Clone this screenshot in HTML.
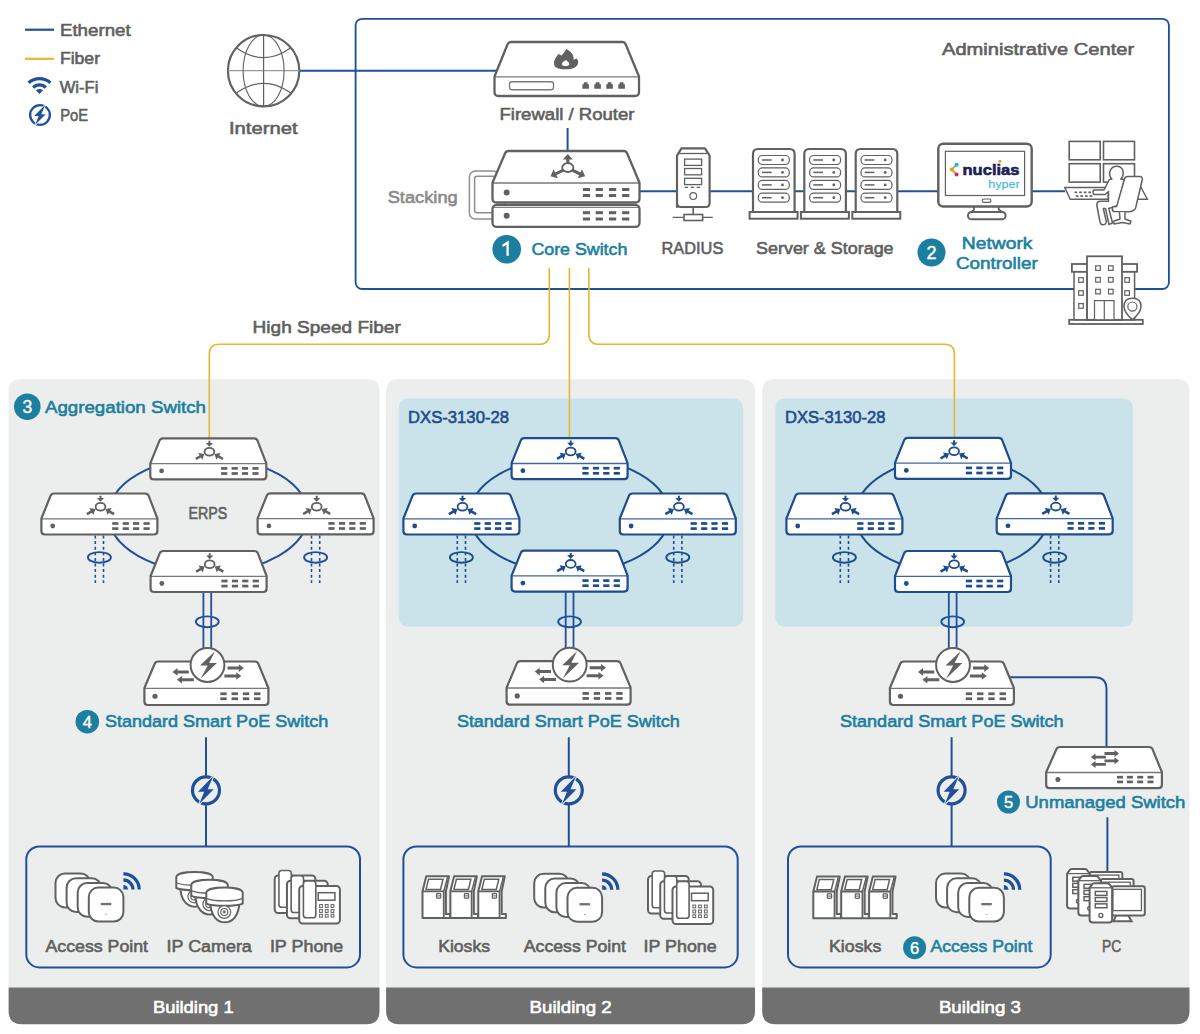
<!DOCTYPE html>
<html><head><meta charset="utf-8"><style>
html,body{margin:0;padding:0;background:#fff;width:1200px;height:1034px;overflow:hidden}
svg{display:block;font-family:"Liberation Sans",sans-serif}
</style></head><body>
<svg width="1200" height="1034" viewBox="0 0 1200 1034">
<rect x="0" y="0" width="1200" height="1034" fill="#fff"/>
<path d="M8.60 391.2 Q8.60 379.2 20.60 379.2 L367.50 379.2 Q379.50 379.2 379.50 391.2 L379.50 987.5 L8.60 987.5 Z" fill="#eceeed"/>
<path d="M8.60 987.5 L379.50 987.5 L379.50 1011 Q379.50 1024.2 366.50 1024.2 L21.60 1024.2 Q8.60 1024.2 8.60 1011 Z" fill="#707070"/>
<path d="M386.10 391.2 Q386.10 379.2 398.10 379.2 L743.00 379.2 Q755.00 379.2 755.00 391.2 L755.00 987.5 L386.10 987.5 Z" fill="#eceeed"/>
<path d="M386.10 987.5 L755.00 987.5 L755.00 1011 Q755.00 1024.2 742.00 1024.2 L399.10 1024.2 Q386.10 1024.2 386.10 1011 Z" fill="#707070"/>
<path d="M762.20 391.2 Q762.20 379.2 774.20 379.2 L1177.50 379.2 Q1189.50 379.2 1189.50 391.2 L1189.50 987.5 L762.20 987.5 Z" fill="#eceeed"/>
<path d="M762.20 987.5 L1189.50 987.5 L1189.50 1011 Q1189.50 1024.2 1176.50 1024.2 L775.20 1024.2 Q762.20 1024.2 762.20 1011 Z" fill="#707070"/>
<rect x="398.7" y="398.6" width="344.5" height="228.1" rx="9" fill="#cae3ea"/>
<rect x="775.4" y="398.6" width="357.6" height="228.1" rx="9" fill="#cae3ea"/>
<rect x="355.6" y="18.8" width="813.3" height="270.2" rx="6.5" fill="none" stroke="#21509b" stroke-width="1.85"/>
<rect x="26.30" y="846.4" width="333.70" height="121" rx="13" fill="none" stroke="#21509b" stroke-width="2"/>
<rect x="403.40" y="846.4" width="334.30" height="121" rx="13" fill="none" stroke="#21509b" stroke-width="2"/>
<rect x="788.00" y="846.4" width="262.70" height="121" rx="13" fill="none" stroke="#21509b" stroke-width="2"/>
<line x1="25" y1="29.7" x2="54" y2="29.7" stroke="#21509b" stroke-width="2.2"/>
<line x1="25" y1="58.8" x2="54" y2="58.8" stroke="#e5b830" stroke-width="2.2"/>
<path d="M28.6 82.8 A16.4 16.4 0 0 1 50.4 82.8" fill="none" stroke="#21509b" stroke-width="3.3"/>
<path d="M33.2 87.6 A8.8 8.8 0 0 1 45.8 87.6" fill="none" stroke="#21509b" stroke-width="3.3"/>
<path d="M39.5 94 L35.9 90.3 Q39.5 87.9 43.1 90.3 Z" fill="#21509b"/>
<circle cx="40.00" cy="115.00" r="9.86" fill="none" stroke="#21509b" stroke-width="2.34"/>
<polygon points="45.48,104.42 34.16,116.09 38.69,116.09 35.04,125.00 45.62,114.27 41.24,114.27" fill="#21509b" stroke="#fff" stroke-width="1.39" paint-order="stroke" stroke-linejoin="miter"/>
<line x1="299" y1="70.7" x2="498" y2="70.7" stroke="#21509b" stroke-width="2"/>
<line x1="567.6" y1="128" x2="567.6" y2="152" stroke="#21509b" stroke-width="2"/>
<line x1="639.5" y1="191.3" x2="1065" y2="191.3" stroke="#21509b" stroke-width="2"/>
<path d="M549.3 267.8 L549.3 334.3 Q549.3 344.3 539.3 344.3 L219.3 344.3 Q209.3 344.3 209.3 354.3 L209.3 440" fill="none" stroke="#e5b830" stroke-width="1.6"/>
<path d="M588.9 267.8 L588.9 334.3 Q588.9 344.3 598.9 344.3 L944.4 344.3 Q954.4 344.3 954.4 354.3 L954.4 440" fill="none" stroke="#e5b830" stroke-width="1.6"/>
<path d="M569.4 267.8 L569.4 440" fill="none" stroke="#e5b830" stroke-width="1.6"/>
<line x1="206.00" y1="737.2" x2="206.00" y2="777" stroke="#21509b" stroke-width="2"/>
<line x1="206.00" y1="803.6" x2="206.00" y2="846.4" stroke="#21509b" stroke-width="2"/>
<circle cx="206.00" cy="790.30" r="13.50" fill="none" stroke="#21509b" stroke-width="3.20"/>
<polygon points="213.50,775.80 198.00,791.80 204.20,791.80 199.20,804.00 213.70,789.30 207.70,789.30" fill="#21509b" stroke="#eceeed" stroke-width="1.90" paint-order="stroke" stroke-linejoin="miter"/>
<line x1="568.80" y1="737.2" x2="568.80" y2="777" stroke="#21509b" stroke-width="2"/>
<line x1="568.80" y1="803.6" x2="568.80" y2="846.4" stroke="#21509b" stroke-width="2"/>
<circle cx="568.80" cy="790.30" r="13.50" fill="none" stroke="#21509b" stroke-width="3.20"/>
<polygon points="576.30,775.80 560.80,791.80 567.00,791.80 562.00,804.00 576.50,789.30 570.50,789.30" fill="#21509b" stroke="#eceeed" stroke-width="1.90" paint-order="stroke" stroke-linejoin="miter"/>
<line x1="951.60" y1="737.2" x2="951.60" y2="777" stroke="#21509b" stroke-width="2"/>
<line x1="951.60" y1="803.6" x2="951.60" y2="846.4" stroke="#21509b" stroke-width="2"/>
<circle cx="951.60" cy="790.30" r="13.50" fill="none" stroke="#21509b" stroke-width="3.20"/>
<polygon points="959.10,775.80 943.60,791.80 949.80,791.80 944.80,804.00 959.30,789.30 953.30,789.30" fill="#21509b" stroke="#eceeed" stroke-width="1.90" paint-order="stroke" stroke-linejoin="miter"/>
<path d="M1010 677.3 L1094.5 677.3 Q1106.5 677.3 1106.5 689.3 L1106.5 748" fill="none" stroke="#21509b" stroke-width="2"/>
<line x1="1107.4" y1="817.3" x2="1107.4" y2="872" stroke="#21509b" stroke-width="2"/>
<circle cx="263.60" cy="70.70" r="35.70" fill="#fff" stroke="#616161" stroke-width="2.2"/>
<line x1="227.90" y1="70.70" x2="299.30" y2="70.70" stroke="#9a9a9a" stroke-width="1.3"/>
<line x1="263.60" y1="35.00" x2="263.60" y2="106.40" stroke="#616161" stroke-width="1.2"/>
<ellipse cx="263.60" cy="70.70" rx="20.5" ry="35.70" fill="none" stroke="#616161" stroke-width="1.1"/>
<path d="M236.70 48.00 Q263.60 67.20 290.50 48.00" fill="none" stroke="#616161" stroke-width="1.2"/>
<path d="M236.70 92.70 Q263.60 74.00 290.50 92.70" fill="none" stroke="#616161" stroke-width="1.2"/>
<path d="M494.50 76.50 L507.60 44.20 Q508.50 42.00 511.10 42.00 L622.15 42.00 Q624.75 42.00 625.65 44.20 L639.00 76.50 L639.00 92.00 Q639.00 96.00 635.00 96.00 L498.50 96.00 Q494.50 96.00 494.50 92.00 Z" fill="#fff" stroke="#616161" stroke-width="2.30" stroke-linejoin="round"/>
<line x1="495.00" y1="76.80" x2="638.50" y2="76.80" stroke="#616161" stroke-width="1.3" opacity="0.85"/>
<path d="M566.3 49.1 C570 51 574 54 573.6 59.8 L576.8 58.6 C579 61.5 578.8 66 574 68 C571 69.6 560 69.8 557 68 C553 66 552.5 60.5 558.5 54 L561.7 55.5 C563.5 53.5 565 51.5 566.3 49.1 Z" fill="#616161"/>
<path d="M566 59.9 C567.5 61.5 570 62.5 569.2 64.5 C568 66.5 563 66.5 561.8 64.5 C561.5 62.7 564 61 566 59.9 Z" fill="#fff"/>
<rect x="509.5" y="81.75" width="44" height="8" rx="2.5" fill="#fff" stroke="#7a7a7a" stroke-width="1.3"/>
<path d="M582.40 88.8 L582.40 84.3 L583.80 84.3 L583.80 82.2 L587.60 82.2 L587.60 84.3 L589.00 84.3 L589.00 88.8 Z" fill="#616161"/>
<path d="M594.30 88.8 L594.30 84.3 L595.70 84.3 L595.70 82.2 L599.50 82.2 L599.50 84.3 L600.90 84.3 L600.90 88.8 Z" fill="#616161"/>
<path d="M606.30 88.8 L606.30 84.3 L607.70 84.3 L607.70 82.2 L611.50 82.2 L611.50 84.3 L612.90 84.3 L612.90 88.8 Z" fill="#616161"/>
<path d="M618.30 88.8 L618.30 84.3 L619.70 84.3 L619.70 82.2 L623.50 82.2 L623.50 84.3 L624.90 84.3 L624.90 88.8 Z" fill="#616161"/>
<rect x="469.4" y="171" width="30" height="48" rx="6" fill="#fff" stroke="#8e8e8e" stroke-width="1.5"/>
<rect x="474.6" y="176.2" width="30" height="36.6" rx="2.5" fill="#fff" stroke="#8e8e8e" stroke-width="1.5"/>
<rect x="492.5" y="204.9" width="147" height="21.9" rx="4" fill="#fff" stroke="#616161" stroke-width="2.3"/>
<line x1="493" y1="207.4" x2="639" y2="207.4" stroke="#616161" stroke-width="1.2" opacity="0.8"/>
<path d="M492.50 182.70 L505.10 153.20 Q506.00 151.00 508.60 151.00 L623.60 151.00 Q626.20 151.00 627.10 153.20 L639.50 182.70 L639.50 198.50 Q639.50 202.50 635.50 202.50 L496.50 202.50 Q492.50 202.50 492.50 198.50 Z" fill="#fff" stroke="#616161" stroke-width="2.30" stroke-linejoin="round"/>
<line x1="493.00" y1="183.00" x2="639.00" y2="183.00" stroke="#616161" stroke-width="1.3" opacity="0.85"/>
<circle cx="506.7" cy="192.5" r="3" fill="#616161"/>
<circle cx="506.7" cy="215.8" r="3" fill="#616161"/>
<rect x="582.90" y="188.00" width="7.20" height="3.00" fill="#616161"/>
<rect x="595.70" y="188.00" width="7.20" height="3.00" fill="#616161"/>
<rect x="609.00" y="188.00" width="7.20" height="3.00" fill="#616161"/>
<rect x="622.10" y="188.00" width="7.20" height="3.00" fill="#616161"/>
<rect x="582.90" y="194.00" width="7.20" height="3.00" fill="#616161"/>
<rect x="595.70" y="194.00" width="7.20" height="3.00" fill="#616161"/>
<rect x="609.00" y="194.00" width="7.20" height="3.00" fill="#616161"/>
<rect x="622.10" y="194.00" width="7.20" height="3.00" fill="#616161"/>
<rect x="582.90" y="211.20" width="7.20" height="3.00" fill="#616161"/>
<rect x="595.70" y="211.20" width="7.20" height="3.00" fill="#616161"/>
<rect x="609.00" y="211.20" width="7.20" height="3.00" fill="#616161"/>
<rect x="622.10" y="211.20" width="7.20" height="3.00" fill="#616161"/>
<rect x="582.90" y="217.50" width="7.20" height="3.00" fill="#616161"/>
<rect x="595.70" y="217.50" width="7.20" height="3.00" fill="#616161"/>
<rect x="609.00" y="217.50" width="7.20" height="3.00" fill="#616161"/>
<rect x="622.10" y="217.50" width="7.20" height="3.00" fill="#616161"/>
<polygon points="569.35,163.10 569.35,159.40 572.80,159.40 567.80,154.00 562.80,159.40 566.25,159.40 566.25,163.10" fill="#616161"/>
<polygon points="562.63,168.80 555.07,172.41 553.58,169.29 550.50,176.30 557.89,178.32 556.40,175.20 563.97,171.60" fill="#616161"/>
<polygon points="571.63,171.60 579.20,175.20 577.71,178.32 585.10,176.30 582.02,169.29 580.53,172.41 572.97,168.80" fill="#616161"/>
<ellipse cx="567.80" cy="167.60" rx="5.6" ry="4.4" fill="#fff" stroke="#616161" stroke-width="1.8"/>
<path d="M677 207 L677 155.5 L681.5 148.3 L705 148.3 L709.6 155.5 L709.6 203 Q709.6 207 705.6 207 L681 207 Q677 207 677 203 Z" fill="#fff" stroke="#616161" stroke-width="2.2" stroke-linejoin="round"/>
<line x1="678" y1="153.5" x2="708.6" y2="153.5" stroke="#616161" stroke-width="1.3"/>
<rect x="684.6" y="159.10" width="17" height="6.3" fill="#fff" stroke="#616161" stroke-width="1.3"/>
<rect x="684.6" y="168.50" width="17" height="6.3" fill="#fff" stroke="#616161" stroke-width="1.3"/>
<rect x="684.6" y="178.30" width="17" height="6.3" fill="#fff" stroke="#616161" stroke-width="1.3"/>
<line x1="684.6" y1="187.4" x2="701.6" y2="187.4" stroke="#616161" stroke-width="1.2" stroke-dasharray="3.5 2.5"/>
<circle cx="693.2" cy="196.1" r="3.4" fill="#fff" stroke="#616161" stroke-width="1.2"/>
<line x1="693.2" y1="207" x2="693.2" y2="214.5" stroke="#616161" stroke-width="1.6"/>
<line x1="672.6" y1="217.4" x2="712.7" y2="217.4" stroke="#616161" stroke-width="1.4"/>
<rect x="684" y="214.5" width="18.6" height="6" fill="#fff" stroke="#616161" stroke-width="1.6"/>
<path d="M753 212 L753 154 Q753 149 758 149 L789.6 149 Q794.6 149 794.6 154 L794.6 212" transform="translate(0.00 0)" fill="#fff" stroke="#616161" stroke-width="2.2"/>
<rect x="749.60" y="212" width="48" height="6.7" fill="#fff" stroke="#616161" stroke-width="2"/>
<rect x="758.30" y="155.50" width="31" height="9" rx="4" fill="#fff" stroke="#616161" stroke-width="1.2"/>
<line x1="762.00" y1="160.00" x2="771.70" y2="160.00" stroke="#616161" stroke-width="1.5"/>
<circle cx="782.50" cy="160.00" r="1.4" fill="#616161"/>
<rect x="758.30" y="167.90" width="31" height="9" rx="4" fill="#fff" stroke="#616161" stroke-width="1.2"/>
<line x1="762.00" y1="172.40" x2="771.70" y2="172.40" stroke="#616161" stroke-width="1.5"/>
<circle cx="782.50" cy="172.40" r="1.4" fill="#616161"/>
<rect x="758.30" y="180.40" width="31" height="9" rx="4" fill="#fff" stroke="#616161" stroke-width="1.2"/>
<line x1="762.00" y1="184.90" x2="771.70" y2="184.90" stroke="#616161" stroke-width="1.5"/>
<circle cx="782.50" cy="184.90" r="1.4" fill="#616161"/>
<rect x="758.30" y="193.20" width="31" height="9" rx="4" fill="#fff" stroke="#616161" stroke-width="1.2"/>
<line x1="762.00" y1="197.70" x2="771.70" y2="197.70" stroke="#616161" stroke-width="1.5"/>
<circle cx="782.50" cy="197.70" r="1.4" fill="#616161"/>
<path d="M753 212 L753 154 Q753 149 758 149 L789.6 149 Q794.6 149 794.6 154 L794.6 212" transform="translate(51.30 0)" fill="#fff" stroke="#616161" stroke-width="2.2"/>
<rect x="800.90" y="212" width="48" height="6.7" fill="#fff" stroke="#616161" stroke-width="2"/>
<rect x="809.60" y="155.50" width="31" height="9" rx="4" fill="#fff" stroke="#616161" stroke-width="1.2"/>
<line x1="813.30" y1="160.00" x2="823.00" y2="160.00" stroke="#616161" stroke-width="1.5"/>
<circle cx="833.80" cy="160.00" r="1.4" fill="#616161"/>
<rect x="809.60" y="167.90" width="31" height="9" rx="4" fill="#fff" stroke="#616161" stroke-width="1.2"/>
<line x1="813.30" y1="172.40" x2="823.00" y2="172.40" stroke="#616161" stroke-width="1.5"/>
<circle cx="833.80" cy="172.40" r="1.4" fill="#616161"/>
<rect x="809.60" y="180.40" width="31" height="9" rx="4" fill="#fff" stroke="#616161" stroke-width="1.2"/>
<line x1="813.30" y1="184.90" x2="823.00" y2="184.90" stroke="#616161" stroke-width="1.5"/>
<circle cx="833.80" cy="184.90" r="1.4" fill="#616161"/>
<rect x="809.60" y="193.20" width="31" height="9" rx="4" fill="#fff" stroke="#616161" stroke-width="1.2"/>
<line x1="813.30" y1="197.70" x2="823.00" y2="197.70" stroke="#616161" stroke-width="1.5"/>
<circle cx="833.80" cy="197.70" r="1.4" fill="#616161"/>
<path d="M753 212 L753 154 Q753 149 758 149 L789.6 149 Q794.6 149 794.6 154 L794.6 212" transform="translate(102.70 0)" fill="#fff" stroke="#616161" stroke-width="2.2"/>
<rect x="852.30" y="212" width="48" height="6.7" fill="#fff" stroke="#616161" stroke-width="2"/>
<rect x="861.00" y="155.50" width="31" height="9" rx="4" fill="#fff" stroke="#616161" stroke-width="1.2"/>
<line x1="864.70" y1="160.00" x2="874.40" y2="160.00" stroke="#616161" stroke-width="1.5"/>
<circle cx="885.20" cy="160.00" r="1.4" fill="#616161"/>
<rect x="861.00" y="167.90" width="31" height="9" rx="4" fill="#fff" stroke="#616161" stroke-width="1.2"/>
<line x1="864.70" y1="172.40" x2="874.40" y2="172.40" stroke="#616161" stroke-width="1.5"/>
<circle cx="885.20" cy="172.40" r="1.4" fill="#616161"/>
<rect x="861.00" y="180.40" width="31" height="9" rx="4" fill="#fff" stroke="#616161" stroke-width="1.2"/>
<line x1="864.70" y1="184.90" x2="874.40" y2="184.90" stroke="#616161" stroke-width="1.5"/>
<circle cx="885.20" cy="184.90" r="1.4" fill="#616161"/>
<rect x="861.00" y="193.20" width="31" height="9" rx="4" fill="#fff" stroke="#616161" stroke-width="1.2"/>
<line x1="864.70" y1="197.70" x2="874.40" y2="197.70" stroke="#616161" stroke-width="1.5"/>
<circle cx="885.20" cy="197.70" r="1.4" fill="#616161"/>
<path d="M974 206 L974 209.6 L969.5 213.5 L1004.5 213.5 L998.7 209.6 L998.7 206 Z" fill="#fff" stroke="#616161" stroke-width="1.8" stroke-linejoin="round"/>
<rect x="968" y="212" width="37.6" height="7.3" rx="3.6" fill="#fff" stroke="#616161" stroke-width="2"/>
<rect x="938.3" y="143.7" width="93.4" height="62.8" rx="5" fill="#fff" stroke="#616161" stroke-width="2.4"/>
<rect x="945.4" y="151.3" width="79.2" height="44.2" fill="#fff" stroke="#616161" stroke-width="1.2"/>
<rect x="982.2" y="199" width="8.8" height="3.4" rx="1.7" fill="#fff" stroke="#616161" stroke-width="1.1"/>
<line x1="956.4" y1="164.9" x2="951.8" y2="169.6" stroke="#8cc63f" stroke-width="2"/>
<line x1="951.8" y1="169.6" x2="956.4" y2="174.5" stroke="#8cc63f" stroke-width="2"/>
<circle cx="956.6" cy="164.8" r="2" fill="#29abe2"/>
<circle cx="951.8" cy="169.6" r="2" fill="#f7931e"/>
<circle cx="956.6" cy="174.5" r="2" fill="#e0245e"/>
<text x="962.5" y="175" font-size="15" font-weight="bold" fill="#1b2157" stroke="#1b2157" stroke-width="0.6" textLength="57" lengthAdjust="spacingAndGlyphs">nuclias</text>
<circle cx="999.9" cy="161.3" r="1.5" fill="#f7931e"/>
<text x="988.2" y="187.7" font-size="11.5" fill="#2bb5de" textLength="31.6" lengthAdjust="spacingAndGlyphs">hyper</text>
<rect x="1069.20" y="141.40" width="31" height="18.4" fill="#fff" stroke="#616161" stroke-width="1.6"/>
<rect x="1103.50" y="141.40" width="31" height="18.4" fill="#fff" stroke="#616161" stroke-width="1.6"/>
<rect x="1069.20" y="163.70" width="31" height="18.4" fill="#fff" stroke="#616161" stroke-width="1.6"/>
<rect x="1103.50" y="163.70" width="31" height="18.4" fill="#fff" stroke="#616161" stroke-width="1.6"/>
<path d="M1140.5 186.5 L1147.4 199.3 L1135 199.3 Z" fill="#fff" stroke="#616161" stroke-width="1.4"/>
<path d="M1064.7 187.4 L1108.3 187.4 L1108.3 199.3 L1070.2 199.3 Z" fill="#fff" stroke="#616161" stroke-width="1.5" stroke-linejoin="round"/>
<rect x="1074.50" y="191.50" width="2.7" height="1.7" fill="#616161" transform="skewX(0)"/>
<rect x="1079.10" y="191.50" width="2.7" height="1.7" fill="#616161" transform="skewX(0)"/>
<rect x="1083.70" y="191.50" width="2.7" height="1.7" fill="#616161" transform="skewX(0)"/>
<rect x="1088.30" y="191.50" width="2.7" height="1.7" fill="#616161" transform="skewX(0)"/>
<rect x="1075.80" y="195.20" width="2.7" height="1.7" fill="#616161" transform="skewX(0)"/>
<rect x="1080.40" y="195.20" width="2.7" height="1.7" fill="#616161" transform="skewX(0)"/>
<rect x="1085.00" y="195.20" width="2.7" height="1.7" fill="#616161" transform="skewX(0)"/>
<rect x="1089.60" y="195.20" width="2.7" height="1.7" fill="#616161" transform="skewX(0)"/>
<path d="M1112 179 Q1108.5 176 1110 171 Q1112 166.3 1116.6 166.3 Q1121.5 166.3 1123 171 Q1124 176 1120.8 179 L1124.5 179.5 L1117.5 205.5 L1108.8 208.5 L1112.5 223 L1109 224.5 L1105.5 208.5 L1103.3 208.5 L1106.3 221.5 Q1106 225 1102.5 224.8 Q1100.5 224.5 1100 222 L1096.8 205 Q1096.8 201.3 1100.5 201.3 L1108.5 201.3 L1108.5 191.5 L1105 194.5 L1093.6 194.5 Q1092.3 192 1093.6 190 L1104 190 L1109.3 179.5 Z" fill="#fff" stroke="#616161" stroke-width="1.5" stroke-linejoin="round"/>
<path d="M1124.5 179 Q1125 176.6 1127.8 176.6 L1140.3 176.6 Q1143 177.2 1142.2 180 L1135.6 208 Q1134.4 211.5 1128 211.8 L1113.5 211.5 Q1111.5 210 1112.8 206.7 L1116.7 206.4 Z" fill="#fff" stroke="#616161" stroke-width="1.5" stroke-linejoin="round"/>
<path d="M1119.4 212.3 L1120 219 L1113.8 221.3 L1114 224 L1122.5 222.5 L1130 224 L1131 221.3 L1125 219 L1125 212.3" fill="#fff" stroke="#616161" stroke-width="1.5" stroke-linejoin="round"/>
<rect x="1069.2" y="319.8" width="73.6" height="4.2" fill="#fff" stroke="#616161" stroke-width="1.8"/>
<rect x="1074" y="271.5" width="60.6" height="48.3" fill="#fff" stroke="#616161" stroke-width="1.5"/>
<rect x="1071.9" y="264" width="65.2" height="7.8" fill="#fff" stroke="#616161" stroke-width="1.8"/>
<rect x="1087" y="256.3" width="35" height="63.5" fill="#fff" stroke="#616161" stroke-width="1.8"/>
<line x1="1087" y1="272" x2="1087" y2="319.8" stroke="#616161" stroke-width="1.2"/>
<rect x="1095.70" y="265.80" width="4.6" height="4.6" fill="#fff" stroke="#616161" stroke-width="1.2"/>
<rect x="1108.50" y="265.80" width="4.6" height="4.6" fill="#fff" stroke="#616161" stroke-width="1.2"/>
<rect x="1095.70" y="277.50" width="4.6" height="4.6" fill="#fff" stroke="#616161" stroke-width="1.2"/>
<rect x="1108.50" y="277.50" width="4.6" height="4.6" fill="#fff" stroke="#616161" stroke-width="1.2"/>
<rect x="1095.70" y="289.30" width="4.6" height="4.6" fill="#fff" stroke="#616161" stroke-width="1.2"/>
<rect x="1108.50" y="289.30" width="4.6" height="4.6" fill="#fff" stroke="#616161" stroke-width="1.2"/>
<rect x="1078.70" y="277.70" width="4.6" height="4.6" fill="#fff" stroke="#616161" stroke-width="1.2"/>
<rect x="1078.70" y="290.70" width="4.6" height="4.6" fill="#fff" stroke="#616161" stroke-width="1.2"/>
<rect x="1078.70" y="303.60" width="4.6" height="4.6" fill="#fff" stroke="#616161" stroke-width="1.2"/>
<rect x="1124.80" y="277.70" width="4.6" height="4.6" fill="#fff" stroke="#616161" stroke-width="1.2"/>
<rect x="1124.80" y="290.70" width="4.6" height="4.6" fill="#fff" stroke="#616161" stroke-width="1.2"/>
<rect x="1094.5" y="300.6" width="19.5" height="19.2" fill="#fff" stroke="#616161" stroke-width="1.2"/>
<line x1="1104.3" y1="300.6" x2="1104.3" y2="319.8" stroke="#616161" stroke-width="1.2"/>
<path d="M1132.4 319.6 Q1124 312.5 1124 306.5 Q1124 298.3 1132.4 298.3 Q1141 298.3 1141 306.5 Q1141 312.5 1132.4 319.6 Z" fill="#fff" stroke="#616161" stroke-width="1.5"/>
<circle cx="1132.4" cy="306.6" r="4.6" fill="#fff" stroke="#616161" stroke-width="1.2"/>
<ellipse cx="208.30" cy="515.00" rx="100.00" ry="57.5" fill="none" stroke="#21509b" stroke-width="2"/>
<line x1="95.30" y1="535.5" x2="95.30" y2="583" stroke="#21509b" stroke-width="1.6" stroke-dasharray="3 2.6"/>
<line x1="103.50" y1="535.5" x2="103.50" y2="583" stroke="#21509b" stroke-width="1.6" stroke-dasharray="3 2.6"/>
<ellipse cx="99.40" cy="557.4" rx="11.5" ry="5.3" fill="none" stroke="#21509b" stroke-width="1.9"/>
<line x1="311.50" y1="535.5" x2="311.50" y2="583" stroke="#21509b" stroke-width="1.6" stroke-dasharray="3 2.6"/>
<line x1="319.70" y1="535.5" x2="319.70" y2="583" stroke="#21509b" stroke-width="1.6" stroke-dasharray="3 2.6"/>
<ellipse cx="315.60" cy="557.4" rx="11.5" ry="5.3" fill="none" stroke="#21509b" stroke-width="1.9"/>
<line x1="203.40" y1="592" x2="203.40" y2="650" stroke="#21509b" stroke-width="1.8"/>
<line x1="211.20" y1="592" x2="211.20" y2="650" stroke="#21509b" stroke-width="1.8"/>
<ellipse cx="207.30" cy="621.8" rx="11.4" ry="5.4" fill="none" stroke="#21509b" stroke-width="1.9"/>
<path d="M150.30 463.40 L159.50 440.60 Q160.40 438.40 163.00 438.40 L254.00 438.40 Q256.60 438.40 257.50 440.60 L266.30 463.40 L266.30 475.90 Q266.30 479.40 262.80 479.40 L153.80 479.40 Q150.30 479.40 150.30 475.90 Z" fill="#fff" stroke="#616161" stroke-width="2.20" stroke-linejoin="round"/>
<line x1="150.80" y1="463.70" x2="265.80" y2="463.70" stroke="#616161" stroke-width="1.3" opacity="0.85"/>
<circle cx="161.60" cy="470.90" r="2.4" fill="#616161"/>
<rect x="221.10" y="467.05" width="6.20" height="2.70" fill="#616161"/>
<rect x="231.60" y="467.05" width="6.20" height="2.70" fill="#616161"/>
<rect x="241.90" y="467.05" width="6.20" height="2.70" fill="#616161"/>
<rect x="252.40" y="467.05" width="6.20" height="2.70" fill="#616161"/>
<rect x="221.10" y="472.15" width="6.20" height="2.70" fill="#616161"/>
<rect x="231.60" y="472.15" width="6.20" height="2.70" fill="#616161"/>
<rect x="241.90" y="472.15" width="6.20" height="2.70" fill="#616161"/>
<rect x="252.40" y="472.15" width="6.20" height="2.70" fill="#616161"/>
<ellipse cx="209.40" cy="451.70" rx="4.9" ry="3.9" fill="#fff" stroke="#616161" stroke-width="1.8"/>
<polygon points="208.40,440.70 208.40,442.90 205.80,442.90 209.40,446.70 213.00,442.90 210.40,442.90 210.40,440.70" fill="#616161"/>
<polygon points="196.45,460.12 200.90,457.54 202.26,459.87 204.40,454.00 198.24,452.95 199.60,455.29 195.15,457.88" fill="#616161"/>
<polygon points="223.65,457.88 219.20,455.29 220.56,452.95 214.40,454.00 216.54,459.87 217.90,457.54 222.35,460.12" fill="#616161"/>
<path d="M41.40 518.50 L50.60 495.70 Q51.50 493.50 54.10 493.50 L145.10 493.50 Q147.70 493.50 148.60 495.70 L157.40 518.50 L157.40 531.00 Q157.40 534.50 153.90 534.50 L44.90 534.50 Q41.40 534.50 41.40 531.00 Z" fill="#fff" stroke="#616161" stroke-width="2.20" stroke-linejoin="round"/>
<line x1="41.90" y1="518.80" x2="156.90" y2="518.80" stroke="#616161" stroke-width="1.3" opacity="0.85"/>
<circle cx="52.70" cy="526.00" r="2.4" fill="#616161"/>
<rect x="112.20" y="522.15" width="6.20" height="2.70" fill="#616161"/>
<rect x="122.70" y="522.15" width="6.20" height="2.70" fill="#616161"/>
<rect x="133.00" y="522.15" width="6.20" height="2.70" fill="#616161"/>
<rect x="143.50" y="522.15" width="6.20" height="2.70" fill="#616161"/>
<rect x="112.20" y="527.25" width="6.20" height="2.70" fill="#616161"/>
<rect x="122.70" y="527.25" width="6.20" height="2.70" fill="#616161"/>
<rect x="133.00" y="527.25" width="6.20" height="2.70" fill="#616161"/>
<rect x="143.50" y="527.25" width="6.20" height="2.70" fill="#616161"/>
<ellipse cx="100.50" cy="506.80" rx="4.9" ry="3.9" fill="#fff" stroke="#616161" stroke-width="1.8"/>
<polygon points="99.50,495.80 99.50,498.00 96.90,498.00 100.50,501.80 104.10,498.00 101.50,498.00 101.50,495.80" fill="#616161"/>
<polygon points="87.55,515.22 92.00,512.64 93.36,514.97 95.50,509.10 89.34,508.05 90.70,510.39 86.25,512.98" fill="#616161"/>
<polygon points="114.75,512.98 110.30,510.39 111.66,508.05 105.50,509.10 107.64,514.97 109.00,512.64 113.45,515.22" fill="#616161"/>
<path d="M257.60 518.40 L266.80 495.60 Q267.70 493.40 270.30 493.40 L361.30 493.40 Q363.90 493.40 364.80 495.60 L373.60 518.40 L373.60 530.90 Q373.60 534.40 370.10 534.40 L261.10 534.40 Q257.60 534.40 257.60 530.90 Z" fill="#fff" stroke="#616161" stroke-width="2.20" stroke-linejoin="round"/>
<line x1="258.10" y1="518.70" x2="373.10" y2="518.70" stroke="#616161" stroke-width="1.3" opacity="0.85"/>
<circle cx="268.90" cy="525.90" r="2.4" fill="#616161"/>
<rect x="328.40" y="522.05" width="6.20" height="2.70" fill="#616161"/>
<rect x="338.90" y="522.05" width="6.20" height="2.70" fill="#616161"/>
<rect x="349.20" y="522.05" width="6.20" height="2.70" fill="#616161"/>
<rect x="359.70" y="522.05" width="6.20" height="2.70" fill="#616161"/>
<rect x="328.40" y="527.15" width="6.20" height="2.70" fill="#616161"/>
<rect x="338.90" y="527.15" width="6.20" height="2.70" fill="#616161"/>
<rect x="349.20" y="527.15" width="6.20" height="2.70" fill="#616161"/>
<rect x="359.70" y="527.15" width="6.20" height="2.70" fill="#616161"/>
<ellipse cx="316.70" cy="506.70" rx="4.9" ry="3.9" fill="#fff" stroke="#616161" stroke-width="1.8"/>
<polygon points="315.70,495.70 315.70,497.90 313.10,497.90 316.70,501.70 320.30,497.90 317.70,497.90 317.70,495.70" fill="#616161"/>
<polygon points="303.75,515.12 308.20,512.54 309.56,514.87 311.70,509.00 305.54,507.95 306.90,510.29 302.45,512.88" fill="#616161"/>
<polygon points="330.95,512.88 326.50,510.29 327.86,507.95 321.70,509.00 323.84,514.87 325.20,512.54 329.65,515.12" fill="#616161"/>
<path d="M150.60 576.00 L159.80 553.20 Q160.70 551.00 163.30 551.00 L254.30 551.00 Q256.90 551.00 257.80 553.20 L266.60 576.00 L266.60 588.50 Q266.60 592.00 263.10 592.00 L154.10 592.00 Q150.60 592.00 150.60 588.50 Z" fill="#fff" stroke="#616161" stroke-width="2.20" stroke-linejoin="round"/>
<line x1="151.10" y1="576.30" x2="266.10" y2="576.30" stroke="#616161" stroke-width="1.3" opacity="0.85"/>
<circle cx="161.90" cy="583.50" r="2.4" fill="#616161"/>
<rect x="221.40" y="579.65" width="6.20" height="2.70" fill="#616161"/>
<rect x="231.90" y="579.65" width="6.20" height="2.70" fill="#616161"/>
<rect x="242.20" y="579.65" width="6.20" height="2.70" fill="#616161"/>
<rect x="252.70" y="579.65" width="6.20" height="2.70" fill="#616161"/>
<rect x="221.40" y="584.75" width="6.20" height="2.70" fill="#616161"/>
<rect x="231.90" y="584.75" width="6.20" height="2.70" fill="#616161"/>
<rect x="242.20" y="584.75" width="6.20" height="2.70" fill="#616161"/>
<rect x="252.70" y="584.75" width="6.20" height="2.70" fill="#616161"/>
<ellipse cx="209.70" cy="564.30" rx="4.9" ry="3.9" fill="#fff" stroke="#616161" stroke-width="1.8"/>
<polygon points="208.70,553.30 208.70,555.50 206.10,555.50 209.70,559.30 213.30,555.50 210.70,555.50 210.70,553.30" fill="#616161"/>
<polygon points="196.75,572.72 201.20,570.14 202.56,572.47 204.70,566.60 198.54,565.55 199.90,567.89 195.45,570.48" fill="#616161"/>
<polygon points="223.95,570.48 219.50,567.89 220.86,565.55 214.70,566.60 216.84,572.47 218.20,570.14 222.65,572.72" fill="#616161"/>
<ellipse cx="569.60" cy="515.00" rx="100.00" ry="57.5" fill="none" stroke="#1f4d8c" stroke-width="2"/>
<line x1="457.30" y1="535.5" x2="457.30" y2="583" stroke="#1f4d8c" stroke-width="1.6" stroke-dasharray="3 2.6"/>
<line x1="465.50" y1="535.5" x2="465.50" y2="583" stroke="#1f4d8c" stroke-width="1.6" stroke-dasharray="3 2.6"/>
<ellipse cx="461.40" cy="557.4" rx="11.5" ry="5.3" fill="none" stroke="#1f4d8c" stroke-width="1.9"/>
<line x1="673.70" y1="535.5" x2="673.70" y2="583" stroke="#1f4d8c" stroke-width="1.6" stroke-dasharray="3 2.6"/>
<line x1="681.90" y1="535.5" x2="681.90" y2="583" stroke="#1f4d8c" stroke-width="1.6" stroke-dasharray="3 2.6"/>
<ellipse cx="677.80" cy="557.4" rx="11.5" ry="5.3" fill="none" stroke="#1f4d8c" stroke-width="1.9"/>
<line x1="565.70" y1="592" x2="565.70" y2="650" stroke="#21509b" stroke-width="1.8"/>
<line x1="573.50" y1="592" x2="573.50" y2="650" stroke="#21509b" stroke-width="1.8"/>
<ellipse cx="569.60" cy="621.8" rx="11.4" ry="5.4" fill="none" stroke="#21509b" stroke-width="1.9"/>
<path d="M511.60 463.20 L520.80 440.40 Q521.70 438.20 524.30 438.20 L615.30 438.20 Q617.90 438.20 618.80 440.40 L627.60 463.20 L627.60 475.70 Q627.60 479.20 624.10 479.20 L515.10 479.20 Q511.60 479.20 511.60 475.70 Z" fill="#fff" stroke="#1f4d8c" stroke-width="2.20" stroke-linejoin="round"/>
<line x1="512.10" y1="463.50" x2="627.10" y2="463.50" stroke="#1f4d8c" stroke-width="1.3" opacity="0.85"/>
<circle cx="522.90" cy="470.70" r="2.4" fill="#1f4d8c"/>
<rect x="582.40" y="466.85" width="6.20" height="2.70" fill="#1f4d8c"/>
<rect x="592.90" y="466.85" width="6.20" height="2.70" fill="#1f4d8c"/>
<rect x="603.20" y="466.85" width="6.20" height="2.70" fill="#1f4d8c"/>
<rect x="613.70" y="466.85" width="6.20" height="2.70" fill="#1f4d8c"/>
<rect x="582.40" y="471.95" width="6.20" height="2.70" fill="#1f4d8c"/>
<rect x="592.90" y="471.95" width="6.20" height="2.70" fill="#1f4d8c"/>
<rect x="603.20" y="471.95" width="6.20" height="2.70" fill="#1f4d8c"/>
<rect x="613.70" y="471.95" width="6.20" height="2.70" fill="#1f4d8c"/>
<ellipse cx="570.70" cy="451.50" rx="4.9" ry="3.9" fill="#fff" stroke="#1f4d8c" stroke-width="1.8"/>
<polygon points="569.70,440.50 569.70,442.70 567.10,442.70 570.70,446.50 574.30,442.70 571.70,442.70 571.70,440.50" fill="#1f4d8c"/>
<polygon points="557.75,459.92 562.20,457.34 563.56,459.67 565.70,453.80 559.54,452.75 560.90,455.09 556.45,457.68" fill="#1f4d8c"/>
<polygon points="584.95,457.68 580.50,455.09 581.86,452.75 575.70,453.80 577.84,459.67 579.20,457.34 583.65,459.92" fill="#1f4d8c"/>
<path d="M403.40 518.50 L412.60 495.70 Q413.50 493.50 416.10 493.50 L507.10 493.50 Q509.70 493.50 510.60 495.70 L519.40 518.50 L519.40 531.00 Q519.40 534.50 515.90 534.50 L406.90 534.50 Q403.40 534.50 403.40 531.00 Z" fill="#fff" stroke="#1f4d8c" stroke-width="2.20" stroke-linejoin="round"/>
<line x1="403.90" y1="518.80" x2="518.90" y2="518.80" stroke="#1f4d8c" stroke-width="1.3" opacity="0.85"/>
<circle cx="414.70" cy="526.00" r="2.4" fill="#1f4d8c"/>
<rect x="474.20" y="522.15" width="6.20" height="2.70" fill="#1f4d8c"/>
<rect x="484.70" y="522.15" width="6.20" height="2.70" fill="#1f4d8c"/>
<rect x="495.00" y="522.15" width="6.20" height="2.70" fill="#1f4d8c"/>
<rect x="505.50" y="522.15" width="6.20" height="2.70" fill="#1f4d8c"/>
<rect x="474.20" y="527.25" width="6.20" height="2.70" fill="#1f4d8c"/>
<rect x="484.70" y="527.25" width="6.20" height="2.70" fill="#1f4d8c"/>
<rect x="495.00" y="527.25" width="6.20" height="2.70" fill="#1f4d8c"/>
<rect x="505.50" y="527.25" width="6.20" height="2.70" fill="#1f4d8c"/>
<ellipse cx="462.50" cy="506.80" rx="4.9" ry="3.9" fill="#fff" stroke="#1f4d8c" stroke-width="1.8"/>
<polygon points="461.50,495.80 461.50,498.00 458.90,498.00 462.50,501.80 466.10,498.00 463.50,498.00 463.50,495.80" fill="#1f4d8c"/>
<polygon points="449.55,515.22 454.00,512.64 455.36,514.97 457.50,509.10 451.34,508.05 452.70,510.39 448.25,512.98" fill="#1f4d8c"/>
<polygon points="476.75,512.98 472.30,510.39 473.66,508.05 467.50,509.10 469.64,514.97 471.00,512.64 475.45,515.22" fill="#1f4d8c"/>
<path d="M619.80 518.50 L629.00 495.70 Q629.90 493.50 632.50 493.50 L723.50 493.50 Q726.10 493.50 727.00 495.70 L735.80 518.50 L735.80 531.00 Q735.80 534.50 732.30 534.50 L623.30 534.50 Q619.80 534.50 619.80 531.00 Z" fill="#fff" stroke="#1f4d8c" stroke-width="2.20" stroke-linejoin="round"/>
<line x1="620.30" y1="518.80" x2="735.30" y2="518.80" stroke="#1f4d8c" stroke-width="1.3" opacity="0.85"/>
<circle cx="631.10" cy="526.00" r="2.4" fill="#1f4d8c"/>
<rect x="690.60" y="522.15" width="6.20" height="2.70" fill="#1f4d8c"/>
<rect x="701.10" y="522.15" width="6.20" height="2.70" fill="#1f4d8c"/>
<rect x="711.40" y="522.15" width="6.20" height="2.70" fill="#1f4d8c"/>
<rect x="721.90" y="522.15" width="6.20" height="2.70" fill="#1f4d8c"/>
<rect x="690.60" y="527.25" width="6.20" height="2.70" fill="#1f4d8c"/>
<rect x="701.10" y="527.25" width="6.20" height="2.70" fill="#1f4d8c"/>
<rect x="711.40" y="527.25" width="6.20" height="2.70" fill="#1f4d8c"/>
<rect x="721.90" y="527.25" width="6.20" height="2.70" fill="#1f4d8c"/>
<ellipse cx="678.90" cy="506.80" rx="4.9" ry="3.9" fill="#fff" stroke="#1f4d8c" stroke-width="1.8"/>
<polygon points="677.90,495.80 677.90,498.00 675.30,498.00 678.90,501.80 682.50,498.00 679.90,498.00 679.90,495.80" fill="#1f4d8c"/>
<polygon points="665.95,515.22 670.40,512.64 671.76,514.97 673.90,509.10 667.74,508.05 669.10,510.39 664.65,512.98" fill="#1f4d8c"/>
<polygon points="693.15,512.98 688.70,510.39 690.06,508.05 683.90,509.10 686.04,514.97 687.40,512.64 691.85,515.22" fill="#1f4d8c"/>
<path d="M511.60 575.60 L520.80 552.80 Q521.70 550.60 524.30 550.60 L615.30 550.60 Q617.90 550.60 618.80 552.80 L627.60 575.60 L627.60 588.10 Q627.60 591.60 624.10 591.60 L515.10 591.60 Q511.60 591.60 511.60 588.10 Z" fill="#fff" stroke="#1f4d8c" stroke-width="2.20" stroke-linejoin="round"/>
<line x1="512.10" y1="575.90" x2="627.10" y2="575.90" stroke="#1f4d8c" stroke-width="1.3" opacity="0.85"/>
<circle cx="522.90" cy="583.10" r="2.4" fill="#1f4d8c"/>
<rect x="582.40" y="579.25" width="6.20" height="2.70" fill="#1f4d8c"/>
<rect x="592.90" y="579.25" width="6.20" height="2.70" fill="#1f4d8c"/>
<rect x="603.20" y="579.25" width="6.20" height="2.70" fill="#1f4d8c"/>
<rect x="613.70" y="579.25" width="6.20" height="2.70" fill="#1f4d8c"/>
<rect x="582.40" y="584.35" width="6.20" height="2.70" fill="#1f4d8c"/>
<rect x="592.90" y="584.35" width="6.20" height="2.70" fill="#1f4d8c"/>
<rect x="603.20" y="584.35" width="6.20" height="2.70" fill="#1f4d8c"/>
<rect x="613.70" y="584.35" width="6.20" height="2.70" fill="#1f4d8c"/>
<ellipse cx="570.70" cy="563.90" rx="4.9" ry="3.9" fill="#fff" stroke="#1f4d8c" stroke-width="1.8"/>
<polygon points="569.70,552.90 569.70,555.10 567.10,555.10 570.70,558.90 574.30,555.10 571.70,555.10 571.70,552.90" fill="#1f4d8c"/>
<polygon points="557.75,572.32 562.20,569.74 563.56,572.07 565.70,566.20 559.54,565.15 560.90,567.49 556.45,570.08" fill="#1f4d8c"/>
<polygon points="584.95,570.08 580.50,567.49 581.86,565.15 575.70,566.20 577.84,572.07 579.20,569.74 583.65,572.32" fill="#1f4d8c"/>
<ellipse cx="952.00" cy="515.00" rx="97.00" ry="57.5" fill="none" stroke="#1f4d8c" stroke-width="2"/>
<line x1="840.30" y1="535.5" x2="840.30" y2="583" stroke="#1f4d8c" stroke-width="1.6" stroke-dasharray="3 2.6"/>
<line x1="848.50" y1="535.5" x2="848.50" y2="583" stroke="#1f4d8c" stroke-width="1.6" stroke-dasharray="3 2.6"/>
<ellipse cx="844.40" cy="557.4" rx="11.5" ry="5.3" fill="none" stroke="#1f4d8c" stroke-width="1.9"/>
<line x1="1050.60" y1="535.5" x2="1050.60" y2="583" stroke="#1f4d8c" stroke-width="1.6" stroke-dasharray="3 2.6"/>
<line x1="1058.80" y1="535.5" x2="1058.80" y2="583" stroke="#1f4d8c" stroke-width="1.6" stroke-dasharray="3 2.6"/>
<ellipse cx="1054.70" cy="557.4" rx="11.5" ry="5.3" fill="none" stroke="#1f4d8c" stroke-width="1.9"/>
<line x1="948.80" y1="592" x2="948.80" y2="650" stroke="#21509b" stroke-width="1.8"/>
<line x1="956.60" y1="592" x2="956.60" y2="650" stroke="#21509b" stroke-width="1.8"/>
<ellipse cx="952.70" cy="621.8" rx="11.4" ry="5.4" fill="none" stroke="#21509b" stroke-width="1.9"/>
<path d="M895.00 462.90 L904.20 440.10 Q905.10 437.90 907.70 437.90 L998.70 437.90 Q1001.30 437.90 1002.20 440.10 L1011.00 462.90 L1011.00 475.40 Q1011.00 478.90 1007.50 478.90 L898.50 478.90 Q895.00 478.90 895.00 475.40 Z" fill="#fff" stroke="#1f4d8c" stroke-width="2.20" stroke-linejoin="round"/>
<line x1="895.50" y1="463.20" x2="1010.50" y2="463.20" stroke="#1f4d8c" stroke-width="1.3" opacity="0.85"/>
<circle cx="906.30" cy="470.40" r="2.4" fill="#1f4d8c"/>
<rect x="965.80" y="466.55" width="6.20" height="2.70" fill="#1f4d8c"/>
<rect x="976.30" y="466.55" width="6.20" height="2.70" fill="#1f4d8c"/>
<rect x="986.60" y="466.55" width="6.20" height="2.70" fill="#1f4d8c"/>
<rect x="997.10" y="466.55" width="6.20" height="2.70" fill="#1f4d8c"/>
<rect x="965.80" y="471.65" width="6.20" height="2.70" fill="#1f4d8c"/>
<rect x="976.30" y="471.65" width="6.20" height="2.70" fill="#1f4d8c"/>
<rect x="986.60" y="471.65" width="6.20" height="2.70" fill="#1f4d8c"/>
<rect x="997.10" y="471.65" width="6.20" height="2.70" fill="#1f4d8c"/>
<ellipse cx="954.10" cy="451.20" rx="4.9" ry="3.9" fill="#fff" stroke="#1f4d8c" stroke-width="1.8"/>
<polygon points="953.10,440.20 953.10,442.40 950.50,442.40 954.10,446.20 957.70,442.40 955.10,442.40 955.10,440.20" fill="#1f4d8c"/>
<polygon points="941.15,459.62 945.60,457.04 946.96,459.37 949.10,453.50 942.94,452.45 944.30,454.79 939.85,457.38" fill="#1f4d8c"/>
<polygon points="968.35,457.38 963.90,454.79 965.26,452.45 959.10,453.50 961.24,459.37 962.60,457.04 967.05,459.62" fill="#1f4d8c"/>
<path d="M786.40 518.50 L795.60 495.70 Q796.50 493.50 799.10 493.50 L890.10 493.50 Q892.70 493.50 893.60 495.70 L902.40 518.50 L902.40 531.00 Q902.40 534.50 898.90 534.50 L789.90 534.50 Q786.40 534.50 786.40 531.00 Z" fill="#fff" stroke="#1f4d8c" stroke-width="2.20" stroke-linejoin="round"/>
<line x1="786.90" y1="518.80" x2="901.90" y2="518.80" stroke="#1f4d8c" stroke-width="1.3" opacity="0.85"/>
<circle cx="797.70" cy="526.00" r="2.4" fill="#1f4d8c"/>
<rect x="857.20" y="522.15" width="6.20" height="2.70" fill="#1f4d8c"/>
<rect x="867.70" y="522.15" width="6.20" height="2.70" fill="#1f4d8c"/>
<rect x="878.00" y="522.15" width="6.20" height="2.70" fill="#1f4d8c"/>
<rect x="888.50" y="522.15" width="6.20" height="2.70" fill="#1f4d8c"/>
<rect x="857.20" y="527.25" width="6.20" height="2.70" fill="#1f4d8c"/>
<rect x="867.70" y="527.25" width="6.20" height="2.70" fill="#1f4d8c"/>
<rect x="878.00" y="527.25" width="6.20" height="2.70" fill="#1f4d8c"/>
<rect x="888.50" y="527.25" width="6.20" height="2.70" fill="#1f4d8c"/>
<ellipse cx="845.50" cy="506.80" rx="4.9" ry="3.9" fill="#fff" stroke="#1f4d8c" stroke-width="1.8"/>
<polygon points="844.50,495.80 844.50,498.00 841.90,498.00 845.50,501.80 849.10,498.00 846.50,498.00 846.50,495.80" fill="#1f4d8c"/>
<polygon points="832.55,515.22 837.00,512.64 838.36,514.97 840.50,509.10 834.34,508.05 835.70,510.39 831.25,512.98" fill="#1f4d8c"/>
<polygon points="859.75,512.98 855.30,510.39 856.66,508.05 850.50,509.10 852.64,514.97 854.00,512.64 858.45,515.22" fill="#1f4d8c"/>
<path d="M996.70 518.30 L1005.90 495.50 Q1006.80 493.30 1009.40 493.30 L1100.40 493.30 Q1103.00 493.30 1103.90 495.50 L1112.70 518.30 L1112.70 530.80 Q1112.70 534.30 1109.20 534.30 L1000.20 534.30 Q996.70 534.30 996.70 530.80 Z" fill="#fff" stroke="#1f4d8c" stroke-width="2.20" stroke-linejoin="round"/>
<line x1="997.20" y1="518.60" x2="1112.20" y2="518.60" stroke="#1f4d8c" stroke-width="1.3" opacity="0.85"/>
<circle cx="1008.00" cy="525.80" r="2.4" fill="#1f4d8c"/>
<rect x="1067.50" y="521.95" width="6.20" height="2.70" fill="#1f4d8c"/>
<rect x="1078.00" y="521.95" width="6.20" height="2.70" fill="#1f4d8c"/>
<rect x="1088.30" y="521.95" width="6.20" height="2.70" fill="#1f4d8c"/>
<rect x="1098.80" y="521.95" width="6.20" height="2.70" fill="#1f4d8c"/>
<rect x="1067.50" y="527.05" width="6.20" height="2.70" fill="#1f4d8c"/>
<rect x="1078.00" y="527.05" width="6.20" height="2.70" fill="#1f4d8c"/>
<rect x="1088.30" y="527.05" width="6.20" height="2.70" fill="#1f4d8c"/>
<rect x="1098.80" y="527.05" width="6.20" height="2.70" fill="#1f4d8c"/>
<ellipse cx="1055.80" cy="506.60" rx="4.9" ry="3.9" fill="#fff" stroke="#1f4d8c" stroke-width="1.8"/>
<polygon points="1054.80,495.60 1054.80,497.80 1052.20,497.80 1055.80,501.60 1059.40,497.80 1056.80,497.80 1056.80,495.60" fill="#1f4d8c"/>
<polygon points="1042.85,515.02 1047.30,512.44 1048.66,514.77 1050.80,508.90 1044.64,507.85 1046.00,510.19 1041.55,512.78" fill="#1f4d8c"/>
<polygon points="1070.05,512.78 1065.60,510.19 1066.96,507.85 1060.80,508.90 1062.94,514.77 1064.30,512.44 1068.75,515.02" fill="#1f4d8c"/>
<path d="M895.00 576.00 L904.20 553.20 Q905.10 551.00 907.70 551.00 L998.70 551.00 Q1001.30 551.00 1002.20 553.20 L1011.00 576.00 L1011.00 588.50 Q1011.00 592.00 1007.50 592.00 L898.50 592.00 Q895.00 592.00 895.00 588.50 Z" fill="#fff" stroke="#1f4d8c" stroke-width="2.20" stroke-linejoin="round"/>
<line x1="895.50" y1="576.30" x2="1010.50" y2="576.30" stroke="#1f4d8c" stroke-width="1.3" opacity="0.85"/>
<circle cx="906.30" cy="583.50" r="2.4" fill="#1f4d8c"/>
<rect x="965.80" y="579.65" width="6.20" height="2.70" fill="#1f4d8c"/>
<rect x="976.30" y="579.65" width="6.20" height="2.70" fill="#1f4d8c"/>
<rect x="986.60" y="579.65" width="6.20" height="2.70" fill="#1f4d8c"/>
<rect x="997.10" y="579.65" width="6.20" height="2.70" fill="#1f4d8c"/>
<rect x="965.80" y="584.75" width="6.20" height="2.70" fill="#1f4d8c"/>
<rect x="976.30" y="584.75" width="6.20" height="2.70" fill="#1f4d8c"/>
<rect x="986.60" y="584.75" width="6.20" height="2.70" fill="#1f4d8c"/>
<rect x="997.10" y="584.75" width="6.20" height="2.70" fill="#1f4d8c"/>
<ellipse cx="954.10" cy="564.30" rx="4.9" ry="3.9" fill="#fff" stroke="#1f4d8c" stroke-width="1.8"/>
<polygon points="953.10,553.30 953.10,555.50 950.50,555.50 954.10,559.30 957.70,555.50 955.10,555.50 955.10,553.30" fill="#1f4d8c"/>
<polygon points="941.15,572.72 945.60,570.14 946.96,572.47 949.10,566.60 942.94,565.55 944.30,567.89 939.85,570.48" fill="#1f4d8c"/>
<polygon points="968.35,570.48 963.90,567.89 965.26,565.55 959.10,566.60 961.24,572.47 962.60,570.14 967.05,572.72" fill="#1f4d8c"/>
<path d="M144.40 688.00 L154.70 663.70 Q155.60 661.50 158.20 661.50 L254.80 661.50 Q257.40 661.50 258.30 663.70 L268.40 688.00 L268.40 701.50 Q268.40 705.00 264.90 705.00 L147.90 705.00 Q144.40 705.00 144.40 701.50 Z" fill="#fff" stroke="#616161" stroke-width="2.20" stroke-linejoin="round"/>
<line x1="144.90" y1="688.30" x2="267.90" y2="688.30" stroke="#616161" stroke-width="1.3" opacity="0.85"/>
<circle cx="155.00" cy="696.25" r="2.6" fill="#616161"/>
<rect x="220.30" y="692.35" width="6.40" height="2.80" fill="#616161"/>
<rect x="231.55" y="692.35" width="6.40" height="2.80" fill="#616161"/>
<rect x="242.80" y="692.35" width="6.40" height="2.80" fill="#616161"/>
<rect x="254.05" y="692.35" width="6.40" height="2.80" fill="#616161"/>
<rect x="220.30" y="697.35" width="6.40" height="2.80" fill="#616161"/>
<rect x="231.55" y="697.35" width="6.40" height="2.80" fill="#616161"/>
<rect x="242.80" y="697.35" width="6.40" height="2.80" fill="#616161"/>
<rect x="254.05" y="697.35" width="6.40" height="2.80" fill="#616161"/>
<polygon points="188.80,670.40 177.50,670.40 177.50,668.10 172.50,671.90 177.50,675.70 177.50,673.40 188.80,673.40" fill="#616161"/>
<polygon points="193.80,678.25 181.90,678.25 181.90,675.95 176.90,679.75 181.90,683.55 181.90,681.25 193.80,681.25" fill="#616161"/>
<polygon points="227.50,669.60 238.80,669.60 238.80,671.90 243.80,668.10 238.80,664.30 238.80,666.60 227.50,666.60" fill="#616161"/>
<polygon points="224.40,677.50 236.30,677.50 236.30,679.80 241.30,676.00 236.30,672.20 236.30,674.50 224.40,674.50" fill="#616161"/>
<circle cx="207.50" cy="665.00" r="16.9" fill="#fff" stroke="#616161" stroke-width="2"/>
<polygon points="215.00,651.25 200.00,665.60 207.70,665.60 200.60,678.75 216.90,663.10 209.10,663.10" fill="#616161"/>
<path d="M506.60 687.70 L516.90 663.40 Q517.80 661.20 520.40 661.20 L617.00 661.20 Q619.60 661.20 620.50 663.40 L630.60 687.70 L630.60 701.20 Q630.60 704.70 627.10 704.70 L510.10 704.70 Q506.60 704.70 506.60 701.20 Z" fill="#fff" stroke="#616161" stroke-width="2.20" stroke-linejoin="round"/>
<line x1="507.10" y1="688.00" x2="630.10" y2="688.00" stroke="#616161" stroke-width="1.3" opacity="0.85"/>
<circle cx="517.20" cy="695.95" r="2.6" fill="#616161"/>
<rect x="582.50" y="692.05" width="6.40" height="2.80" fill="#616161"/>
<rect x="593.75" y="692.05" width="6.40" height="2.80" fill="#616161"/>
<rect x="605.00" y="692.05" width="6.40" height="2.80" fill="#616161"/>
<rect x="616.25" y="692.05" width="6.40" height="2.80" fill="#616161"/>
<rect x="582.50" y="697.05" width="6.40" height="2.80" fill="#616161"/>
<rect x="593.75" y="697.05" width="6.40" height="2.80" fill="#616161"/>
<rect x="605.00" y="697.05" width="6.40" height="2.80" fill="#616161"/>
<rect x="616.25" y="697.05" width="6.40" height="2.80" fill="#616161"/>
<polygon points="551.00,670.10 539.70,670.10 539.70,667.80 534.70,671.60 539.70,675.40 539.70,673.10 551.00,673.10" fill="#616161"/>
<polygon points="556.00,677.95 544.10,677.95 544.10,675.65 539.10,679.45 544.10,683.25 544.10,680.95 556.00,680.95" fill="#616161"/>
<polygon points="589.70,669.30 601.00,669.30 601.00,671.60 606.00,667.80 601.00,664.00 601.00,666.30 589.70,666.30" fill="#616161"/>
<polygon points="586.60,677.20 598.50,677.20 598.50,679.50 603.50,675.70 598.50,671.90 598.50,674.20 586.60,674.20" fill="#616161"/>
<circle cx="569.70" cy="664.70" r="16.9" fill="#fff" stroke="#616161" stroke-width="2"/>
<polygon points="577.20,650.95 562.20,665.30 569.90,665.30 562.80,678.45 579.10,662.80 571.30,662.80" fill="#616161"/>
<path d="M889.90 688.00 L900.20 663.70 Q901.10 661.50 903.70 661.50 L1000.30 661.50 Q1002.90 661.50 1003.80 663.70 L1013.90 688.00 L1013.90 701.50 Q1013.90 705.00 1010.40 705.00 L893.40 705.00 Q889.90 705.00 889.90 701.50 Z" fill="#fff" stroke="#616161" stroke-width="2.20" stroke-linejoin="round"/>
<line x1="890.40" y1="688.30" x2="1013.40" y2="688.30" stroke="#616161" stroke-width="1.3" opacity="0.85"/>
<circle cx="900.50" cy="696.25" r="2.6" fill="#616161"/>
<rect x="965.80" y="692.35" width="6.40" height="2.80" fill="#616161"/>
<rect x="977.05" y="692.35" width="6.40" height="2.80" fill="#616161"/>
<rect x="988.30" y="692.35" width="6.40" height="2.80" fill="#616161"/>
<rect x="999.55" y="692.35" width="6.40" height="2.80" fill="#616161"/>
<rect x="965.80" y="697.35" width="6.40" height="2.80" fill="#616161"/>
<rect x="977.05" y="697.35" width="6.40" height="2.80" fill="#616161"/>
<rect x="988.30" y="697.35" width="6.40" height="2.80" fill="#616161"/>
<rect x="999.55" y="697.35" width="6.40" height="2.80" fill="#616161"/>
<polygon points="934.30,670.40 923.00,670.40 923.00,668.10 918.00,671.90 923.00,675.70 923.00,673.40 934.30,673.40" fill="#616161"/>
<polygon points="939.30,678.25 927.40,678.25 927.40,675.95 922.40,679.75 927.40,683.55 927.40,681.25 939.30,681.25" fill="#616161"/>
<polygon points="973.00,669.60 984.30,669.60 984.30,671.90 989.30,668.10 984.30,664.30 984.30,666.60 973.00,666.60" fill="#616161"/>
<polygon points="969.90,677.50 981.80,677.50 981.80,679.80 986.80,676.00 981.80,672.20 981.80,674.50 969.90,674.50" fill="#616161"/>
<circle cx="953.00" cy="665.00" r="16.9" fill="#fff" stroke="#616161" stroke-width="2"/>
<polygon points="960.50,651.25 945.50,665.60 953.20,665.60 946.10,678.75 962.40,663.10 954.60,663.10" fill="#616161"/>
<path d="M1046.20 772.20 L1056.40 749.20 Q1057.30 747.00 1059.90 747.00 L1149.00 747.00 Q1151.60 747.00 1152.50 749.20 L1161.90 772.20 L1161.90 784.70 Q1161.90 788.20 1158.40 788.20 L1049.70 788.20 Q1046.20 788.20 1046.20 784.70 Z" fill="#fff" stroke="#616161" stroke-width="2.20" stroke-linejoin="round"/>
<line x1="1046.70" y1="772.50" x2="1161.40" y2="772.50" stroke="#616161" stroke-width="1.3" opacity="0.85"/>
<circle cx="1057.90" cy="779.50" r="2.5" fill="#616161"/>
<rect x="1117.00" y="775.85" width="6.00" height="2.70" fill="#616161"/>
<rect x="1126.90" y="775.85" width="6.00" height="2.70" fill="#616161"/>
<rect x="1137.20" y="775.85" width="6.00" height="2.70" fill="#616161"/>
<rect x="1147.50" y="775.85" width="6.00" height="2.70" fill="#616161"/>
<rect x="1117.00" y="780.55" width="6.00" height="2.70" fill="#616161"/>
<rect x="1126.90" y="780.55" width="6.00" height="2.70" fill="#616161"/>
<rect x="1137.20" y="780.55" width="6.00" height="2.70" fill="#616161"/>
<rect x="1147.50" y="780.55" width="6.00" height="2.70" fill="#616161"/>
<polygon points="1104.50,754.90 1114.50,754.90 1114.50,757.00 1119.10,753.50 1114.50,750.00 1114.50,752.10 1104.50,752.10" fill="#616161"/>
<polygon points="1104.50,762.20 1114.50,762.20 1114.50,764.30 1119.10,760.80 1114.50,757.30 1114.50,759.40 1104.50,759.40" fill="#616161"/>
<polygon points="1105.90,755.70 1095.50,755.70 1095.50,753.60 1090.90,757.10 1095.50,760.60 1095.50,758.50 1105.90,758.50" fill="#616161"/>
<polygon points="1105.90,763.00 1095.50,763.00 1095.50,760.90 1090.90,764.40 1095.50,767.90 1095.50,765.80 1105.90,765.80" fill="#616161"/>
<rect x="55.50" y="873.50" width="34.6" height="33.9" rx="9.5" fill="#fff" stroke="#616161" stroke-width="2"/>
<rect x="66.60" y="878.20" width="34.6" height="33.9" rx="9.5" fill="#fff" stroke="#616161" stroke-width="2"/>
<rect x="77.70" y="882.90" width="34.6" height="33.9" rx="9.5" fill="#fff" stroke="#616161" stroke-width="2"/>
<rect x="88.80" y="887.60" width="34.6" height="33.9" rx="9.5" fill="#fff" stroke="#616161" stroke-width="2"/>
<rect x="100.80" y="902.90" width="10.5" height="2.3" fill="#333" opacity="0.7"/>
<rect x="105.40" y="913.80" width="1.4" height="0.9" fill="#555" opacity="0.7"/>
<path d="M123.40 889.60 L123.40 885.00 A4.60 4.60 0 0 1 128.00 889.60 Z" fill="#21509b"/>
<path d="M123.40 880.00 A9.60 9.60 0 0 1 133.00 889.60" fill="none" stroke="#21509b" stroke-width="3.30"/>
<path d="M123.40 873.80 A15.80 15.80 0 0 1 139.20 889.60" fill="none" stroke="#21509b" stroke-width="3.30"/>
<path d="M180.30 885.70 C180.30 901.70 188.30 906.70 194.80 906.70 C201.30 906.70 209.30 901.70 209.30 885.70 Z" fill="#fff" stroke="#616161" stroke-width="2"/>
<path d="M176.30 876.70 C178.30 870.40 210.70 870.40 212.70 876.70 L212.70 888.00 C206.30 891.00 182.70 891.00 176.30 888.00 Z" fill="#fff" stroke="#616161" stroke-width="2" stroke-linejoin="round"/>
<path d="M177.10 883.00 C184.30 886.00 204.70 886.00 211.90 883.00" fill="none" stroke="#616161" stroke-width="1.3"/>
<circle cx="194.30" cy="896.40" r="6.4" fill="#fff" stroke="#616161" stroke-width="1.2"/>
<circle cx="194.30" cy="896.40" r="3.5" fill="#fff" stroke="#616161" stroke-width="1.2"/>
<circle cx="194.30" cy="896.40" r="1.4" fill="#616161"/>
<path d="M195.30 893.50 C195.30 909.50 203.30 914.50 209.80 914.50 C216.30 914.50 224.30 909.50 224.30 893.50 Z" fill="#fff" stroke="#616161" stroke-width="2"/>
<path d="M191.30 884.50 C193.30 878.20 225.70 878.20 227.70 884.50 L227.70 895.80 C221.30 898.80 197.70 898.80 191.30 895.80 Z" fill="#fff" stroke="#616161" stroke-width="2" stroke-linejoin="round"/>
<path d="M192.10 890.80 C199.30 893.80 219.70 893.80 226.90 890.80" fill="none" stroke="#616161" stroke-width="1.3"/>
<circle cx="209.30" cy="904.20" r="6.4" fill="#fff" stroke="#616161" stroke-width="1.2"/>
<circle cx="209.30" cy="904.20" r="3.5" fill="#fff" stroke="#616161" stroke-width="1.2"/>
<circle cx="209.30" cy="904.20" r="1.4" fill="#616161"/>
<path d="M210.30 901.30 C210.30 917.30 218.30 922.30 224.80 922.30 C231.30 922.30 239.30 917.30 239.30 901.30 Z" fill="#fff" stroke="#616161" stroke-width="2"/>
<path d="M206.30 892.30 C208.30 886.00 240.70 886.00 242.70 892.30 L242.70 903.60 C236.30 906.60 212.70 906.60 206.30 903.60 Z" fill="#fff" stroke="#616161" stroke-width="2" stroke-linejoin="round"/>
<path d="M207.10 898.60 C214.30 901.60 234.70 901.60 241.90 898.60" fill="none" stroke="#616161" stroke-width="1.3"/>
<circle cx="224.30" cy="912.00" r="6.4" fill="#fff" stroke="#616161" stroke-width="1.2"/>
<circle cx="224.30" cy="912.00" r="3.5" fill="#fff" stroke="#616161" stroke-width="1.2"/>
<circle cx="224.30" cy="912.00" r="1.4" fill="#616161"/>
<rect x="274.70" y="875.50" width="40.7" height="37.5" rx="3.5" fill="#fff" stroke="#616161" stroke-width="2"/>
<rect x="278.90" y="870.50" width="12.4" height="36.7" rx="2.8" fill="#fff" stroke="#616161" stroke-width="1.6"/>
<rect x="286.95" y="880.75" width="40.7" height="37.5" rx="3.5" fill="#fff" stroke="#616161" stroke-width="2"/>
<rect x="291.15" y="875.75" width="12.4" height="36.7" rx="2.8" fill="#fff" stroke="#616161" stroke-width="1.6"/>
<rect x="299.20" y="886.00" width="40.7" height="37.5" rx="3.5" fill="#fff" stroke="#616161" stroke-width="2"/>
<rect x="303.40" y="881.00" width="12.4" height="36.7" rx="2.8" fill="#fff" stroke="#616161" stroke-width="1.6"/>
<rect x="318.20" y="892.70" width="16.7" height="7.5" fill="#fff" stroke="#616161" stroke-width="1.5"/>
<rect x="319.60" y="904.60" width="2.8" height="2.8" fill="none" stroke="#616161" stroke-width="1"/>
<rect x="325.30" y="904.60" width="2.8" height="2.8" fill="none" stroke="#616161" stroke-width="1"/>
<rect x="331.10" y="904.60" width="2.8" height="2.8" fill="none" stroke="#616161" stroke-width="1"/>
<rect x="319.60" y="909.60" width="2.8" height="2.8" fill="none" stroke="#616161" stroke-width="1"/>
<rect x="325.30" y="909.60" width="2.8" height="2.8" fill="none" stroke="#616161" stroke-width="1"/>
<rect x="331.10" y="909.60" width="2.8" height="2.8" fill="none" stroke="#616161" stroke-width="1"/>
<rect x="319.60" y="914.30" width="2.8" height="2.8" fill="none" stroke="#616161" stroke-width="1"/>
<rect x="325.30" y="914.30" width="2.8" height="2.8" fill="none" stroke="#616161" stroke-width="1"/>
<rect x="331.10" y="914.30" width="2.8" height="2.8" fill="none" stroke="#616161" stroke-width="1"/>
<path d="M426.25 876.30 L449.00 876.30 L445.90 891.30 L445.90 913.90 L450.10 913.90 L450.10 918.00 L422.50 918.00 L422.50 891.30 Z" fill="#fff" stroke="#616161" stroke-width="2" stroke-linejoin="round"/>
<path d="M422.50 891.30 L443.75 891.30 L443.75 918.00" fill="none" stroke="#616161" stroke-width="1.8"/>
<line x1="443.75" y1="891.30" x2="447.50" y2="877.10" stroke="#616161" stroke-width="1.4"/>
<path d="M428.50 879.30 L443.00 879.30 L440.50 889.50 L426.00 889.50 Z" fill="#fff" stroke="#616161" stroke-width="1.5"/>
<rect x="436.50" y="893.70" width="4.3" height="4.5" rx="0.8" fill="#fff" stroke="#616161" stroke-width="1.2"/>
<line x1="436.50" y1="895.90" x2="440.80" y2="895.90" stroke="#616161" stroke-width="1"/>
<path d="M454.15 876.30 L476.90 876.30 L473.80 891.30 L473.80 913.90 L478.00 913.90 L478.00 918.00 L450.40 918.00 L450.40 891.30 Z" fill="#fff" stroke="#616161" stroke-width="2" stroke-linejoin="round"/>
<path d="M450.40 891.30 L471.65 891.30 L471.65 918.00" fill="none" stroke="#616161" stroke-width="1.8"/>
<line x1="471.65" y1="891.30" x2="475.40" y2="877.10" stroke="#616161" stroke-width="1.4"/>
<path d="M456.40 879.30 L470.90 879.30 L468.40 889.50 L453.90 889.50 Z" fill="#fff" stroke="#616161" stroke-width="1.5"/>
<rect x="464.40" y="893.70" width="4.3" height="4.5" rx="0.8" fill="#fff" stroke="#616161" stroke-width="1.2"/>
<line x1="464.40" y1="895.90" x2="468.70" y2="895.90" stroke="#616161" stroke-width="1"/>
<path d="M482.05 876.30 L504.80 876.30 L501.70 891.30 L501.70 913.90 L505.90 913.90 L505.90 918.00 L478.30 918.00 L478.30 891.30 Z" fill="#fff" stroke="#616161" stroke-width="2" stroke-linejoin="round"/>
<path d="M478.30 891.30 L499.55 891.30 L499.55 918.00" fill="none" stroke="#616161" stroke-width="1.8"/>
<line x1="499.55" y1="891.30" x2="503.30" y2="877.10" stroke="#616161" stroke-width="1.4"/>
<path d="M484.30 879.30 L498.80 879.30 L496.30 889.50 L481.80 889.50 Z" fill="#fff" stroke="#616161" stroke-width="1.5"/>
<rect x="492.30" y="893.70" width="4.3" height="4.5" rx="0.8" fill="#fff" stroke="#616161" stroke-width="1.2"/>
<line x1="492.30" y1="895.90" x2="496.60" y2="895.90" stroke="#616161" stroke-width="1"/>
<rect x="534.20" y="873.70" width="34.6" height="33.9" rx="9.5" fill="#fff" stroke="#616161" stroke-width="2"/>
<rect x="545.30" y="878.40" width="34.6" height="33.9" rx="9.5" fill="#fff" stroke="#616161" stroke-width="2"/>
<rect x="556.40" y="883.10" width="34.6" height="33.9" rx="9.5" fill="#fff" stroke="#616161" stroke-width="2"/>
<rect x="567.50" y="887.80" width="34.6" height="33.9" rx="9.5" fill="#fff" stroke="#616161" stroke-width="2"/>
<rect x="579.50" y="903.10" width="10.5" height="2.3" fill="#333" opacity="0.7"/>
<rect x="584.10" y="914.00" width="1.4" height="0.9" fill="#555" opacity="0.7"/>
<path d="M602.10 889.80 L602.10 885.20 A4.60 4.60 0 0 1 606.70 889.80 Z" fill="#21509b"/>
<path d="M602.10 880.20 A9.60 9.60 0 0 1 611.70 889.80" fill="none" stroke="#21509b" stroke-width="3.30"/>
<path d="M602.10 874.00 A15.80 15.80 0 0 1 617.90 889.80" fill="none" stroke="#21509b" stroke-width="3.30"/>
<rect x="648.00" y="876.00" width="40.7" height="37.5" rx="3.5" fill="#fff" stroke="#616161" stroke-width="2"/>
<rect x="652.20" y="871.00" width="12.4" height="36.7" rx="2.8" fill="#fff" stroke="#616161" stroke-width="1.6"/>
<rect x="660.25" y="881.25" width="40.7" height="37.5" rx="3.5" fill="#fff" stroke="#616161" stroke-width="2"/>
<rect x="664.45" y="876.25" width="12.4" height="36.7" rx="2.8" fill="#fff" stroke="#616161" stroke-width="1.6"/>
<rect x="672.50" y="886.50" width="40.7" height="37.5" rx="3.5" fill="#fff" stroke="#616161" stroke-width="2"/>
<rect x="676.70" y="881.50" width="12.4" height="36.7" rx="2.8" fill="#fff" stroke="#616161" stroke-width="1.6"/>
<rect x="691.50" y="893.20" width="16.7" height="7.5" fill="#fff" stroke="#616161" stroke-width="1.5"/>
<rect x="692.90" y="905.10" width="2.8" height="2.8" fill="none" stroke="#616161" stroke-width="1"/>
<rect x="698.60" y="905.10" width="2.8" height="2.8" fill="none" stroke="#616161" stroke-width="1"/>
<rect x="704.40" y="905.10" width="2.8" height="2.8" fill="none" stroke="#616161" stroke-width="1"/>
<rect x="692.90" y="910.10" width="2.8" height="2.8" fill="none" stroke="#616161" stroke-width="1"/>
<rect x="698.60" y="910.10" width="2.8" height="2.8" fill="none" stroke="#616161" stroke-width="1"/>
<rect x="704.40" y="910.10" width="2.8" height="2.8" fill="none" stroke="#616161" stroke-width="1"/>
<rect x="692.90" y="914.80" width="2.8" height="2.8" fill="none" stroke="#616161" stroke-width="1"/>
<rect x="698.60" y="914.80" width="2.8" height="2.8" fill="none" stroke="#616161" stroke-width="1"/>
<rect x="704.40" y="914.80" width="2.8" height="2.8" fill="none" stroke="#616161" stroke-width="1"/>
<path d="M817.05 876.50 L839.80 876.50 L836.70 891.50 L836.70 914.10 L840.90 914.10 L840.90 918.20 L813.30 918.20 L813.30 891.50 Z" fill="#fff" stroke="#616161" stroke-width="2" stroke-linejoin="round"/>
<path d="M813.30 891.50 L834.55 891.50 L834.55 918.20" fill="none" stroke="#616161" stroke-width="1.8"/>
<line x1="834.55" y1="891.50" x2="838.30" y2="877.30" stroke="#616161" stroke-width="1.4"/>
<path d="M819.30 879.50 L833.80 879.50 L831.30 889.70 L816.80 889.70 Z" fill="#fff" stroke="#616161" stroke-width="1.5"/>
<rect x="827.30" y="893.90" width="4.3" height="4.5" rx="0.8" fill="#fff" stroke="#616161" stroke-width="1.2"/>
<line x1="827.30" y1="896.10" x2="831.60" y2="896.10" stroke="#616161" stroke-width="1"/>
<path d="M844.95 876.50 L867.70 876.50 L864.60 891.50 L864.60 914.10 L868.80 914.10 L868.80 918.20 L841.20 918.20 L841.20 891.50 Z" fill="#fff" stroke="#616161" stroke-width="2" stroke-linejoin="round"/>
<path d="M841.20 891.50 L862.45 891.50 L862.45 918.20" fill="none" stroke="#616161" stroke-width="1.8"/>
<line x1="862.45" y1="891.50" x2="866.20" y2="877.30" stroke="#616161" stroke-width="1.4"/>
<path d="M847.20 879.50 L861.70 879.50 L859.20 889.70 L844.70 889.70 Z" fill="#fff" stroke="#616161" stroke-width="1.5"/>
<rect x="855.20" y="893.90" width="4.3" height="4.5" rx="0.8" fill="#fff" stroke="#616161" stroke-width="1.2"/>
<line x1="855.20" y1="896.10" x2="859.50" y2="896.10" stroke="#616161" stroke-width="1"/>
<path d="M872.85 876.50 L895.60 876.50 L892.50 891.50 L892.50 914.10 L896.70 914.10 L896.70 918.20 L869.10 918.20 L869.10 891.50 Z" fill="#fff" stroke="#616161" stroke-width="2" stroke-linejoin="round"/>
<path d="M869.10 891.50 L890.35 891.50 L890.35 918.20" fill="none" stroke="#616161" stroke-width="1.8"/>
<line x1="890.35" y1="891.50" x2="894.10" y2="877.30" stroke="#616161" stroke-width="1.4"/>
<path d="M875.10 879.50 L889.60 879.50 L887.10 889.70 L872.60 889.70 Z" fill="#fff" stroke="#616161" stroke-width="1.5"/>
<rect x="883.10" y="893.90" width="4.3" height="4.5" rx="0.8" fill="#fff" stroke="#616161" stroke-width="1.2"/>
<line x1="883.10" y1="896.10" x2="887.40" y2="896.10" stroke="#616161" stroke-width="1"/>
<rect x="936.00" y="873.60" width="34.6" height="33.9" rx="9.5" fill="#fff" stroke="#616161" stroke-width="2"/>
<rect x="947.10" y="878.30" width="34.6" height="33.9" rx="9.5" fill="#fff" stroke="#616161" stroke-width="2"/>
<rect x="958.20" y="883.00" width="34.6" height="33.9" rx="9.5" fill="#fff" stroke="#616161" stroke-width="2"/>
<rect x="969.30" y="887.70" width="34.6" height="33.9" rx="9.5" fill="#fff" stroke="#616161" stroke-width="2"/>
<rect x="981.30" y="903.00" width="10.5" height="2.3" fill="#333" opacity="0.7"/>
<rect x="985.90" y="913.90" width="1.4" height="0.9" fill="#555" opacity="0.7"/>
<path d="M1003.90 889.70 L1003.90 885.10 A4.60 4.60 0 0 1 1008.50 889.70 Z" fill="#21509b"/>
<path d="M1003.90 880.10 A9.60 9.60 0 0 1 1013.50 889.70" fill="none" stroke="#21509b" stroke-width="3.30"/>
<path d="M1003.90 873.90 A15.80 15.80 0 0 1 1019.70 889.70" fill="none" stroke="#21509b" stroke-width="3.30"/>
<path d="M1093.60 901.00 L1105.60 901.00 L1109.10 907.00 L1091.10 907.00 Z" fill="#fff" stroke="#616161" stroke-width="2"/>
<rect x="1089.60" y="872.00" width="32.7" height="29.3" rx="2" fill="#fff" stroke="#616161" stroke-width="2"/>
<rect x="1090.40" y="875.10" width="28.5" height="21.3" fill="#fff" stroke="#616161" stroke-width="1.3"/>
<path d="M1067.10 873.50 L1070.10 869.60 Q1070.60 869.00 1072.10 869.00 L1084.60 869.00 Q1086.10 869.00 1086.60 869.60 L1089.60 873.50 L1089.60 905.40 Q1089.60 908.40 1086.60 908.40 L1070.10 908.40 Q1067.10 908.40 1067.10 905.40 Z" fill="#fff" stroke="#616161" stroke-width="2"/>
<line x1="1067.60" y1="873.60" x2="1089.10" y2="873.60" stroke="#616161" stroke-width="1.3"/>
<rect x="1072.80" y="877.25" width="11.6" height="3.9" fill="#fff" stroke="#616161" stroke-width="1.5"/>
<rect x="1072.80" y="883.35" width="11.6" height="3.9" fill="#fff" stroke="#616161" stroke-width="1.5"/>
<rect x="1072.80" y="889.65" width="11.6" height="3.9" fill="#fff" stroke="#616161" stroke-width="1.5"/>
<circle cx="1078.40" cy="901.25" r="2" fill="#fff" stroke="#616161" stroke-width="1.3"/>
<path d="M1104.85 908.10 L1116.85 908.10 L1120.35 914.10 L1102.35 914.10 Z" fill="#fff" stroke="#616161" stroke-width="2"/>
<rect x="1100.85" y="879.10" width="32.7" height="29.3" rx="2" fill="#fff" stroke="#616161" stroke-width="2"/>
<rect x="1101.65" y="882.20" width="28.5" height="21.3" fill="#fff" stroke="#616161" stroke-width="1.3"/>
<path d="M1078.35 880.60 L1081.35 876.70 Q1081.85 876.10 1083.35 876.10 L1095.85 876.10 Q1097.35 876.10 1097.85 876.70 L1100.85 880.60 L1100.85 912.50 Q1100.85 915.50 1097.85 915.50 L1081.35 915.50 Q1078.35 915.50 1078.35 912.50 Z" fill="#fff" stroke="#616161" stroke-width="2"/>
<line x1="1078.85" y1="880.70" x2="1100.35" y2="880.70" stroke="#616161" stroke-width="1.3"/>
<rect x="1084.05" y="884.35" width="11.6" height="3.9" fill="#fff" stroke="#616161" stroke-width="1.5"/>
<rect x="1084.05" y="890.45" width="11.6" height="3.9" fill="#fff" stroke="#616161" stroke-width="1.5"/>
<rect x="1084.05" y="896.75" width="11.6" height="3.9" fill="#fff" stroke="#616161" stroke-width="1.5"/>
<circle cx="1089.65" cy="908.35" r="2" fill="#fff" stroke="#616161" stroke-width="1.3"/>
<path d="M1116.10 915.20 L1128.10 915.20 L1131.60 921.20 L1113.60 921.20 Z" fill="#fff" stroke="#616161" stroke-width="2"/>
<rect x="1112.10" y="886.20" width="32.7" height="29.3" rx="2" fill="#fff" stroke="#616161" stroke-width="2"/>
<rect x="1112.90" y="889.30" width="28.5" height="21.3" fill="#fff" stroke="#616161" stroke-width="1.3"/>
<path d="M1089.60 887.70 L1092.60 883.80 Q1093.10 883.20 1094.60 883.20 L1107.10 883.20 Q1108.60 883.20 1109.10 883.80 L1112.10 887.70 L1112.10 919.60 Q1112.10 922.60 1109.10 922.60 L1092.60 922.60 Q1089.60 922.60 1089.60 919.60 Z" fill="#fff" stroke="#616161" stroke-width="2"/>
<line x1="1090.10" y1="887.80" x2="1111.60" y2="887.80" stroke="#616161" stroke-width="1.3"/>
<rect x="1095.30" y="891.45" width="11.6" height="3.9" fill="#fff" stroke="#616161" stroke-width="1.5"/>
<rect x="1095.30" y="897.55" width="11.6" height="3.9" fill="#fff" stroke="#616161" stroke-width="1.5"/>
<rect x="1095.30" y="903.85" width="11.6" height="3.9" fill="#fff" stroke="#616161" stroke-width="1.5"/>
<circle cx="1100.90" cy="915.45" r="2" fill="#fff" stroke="#616161" stroke-width="1.3"/>
<text x="59.9" y="36.1" font-size="16.9" fill="#5f5f5f" text-anchor="start" font-weight="normal" textLength="70.8" lengthAdjust="spacingAndGlyphs" stroke="#5f5f5f" stroke-width="0.60">Ethernet</text>
<text x="59.9" y="64.3" font-size="16.9" fill="#5f5f5f" text-anchor="start" font-weight="normal" textLength="40.1" lengthAdjust="spacingAndGlyphs" stroke="#5f5f5f" stroke-width="0.60">Fiber</text>
<text x="59.7" y="93.0" font-size="16.9" fill="#5f5f5f" text-anchor="start" font-weight="normal" textLength="38.7" lengthAdjust="spacingAndGlyphs" stroke="#5f5f5f" stroke-width="0.60">Wi-Fi</text>
<text x="60.2" y="121.4" font-size="16.9" fill="#5f5f5f" text-anchor="start" font-weight="normal" textLength="28.0" lengthAdjust="spacingAndGlyphs" stroke="#5f5f5f" stroke-width="0.60">PoE</text>
<text x="229.0" y="134.0" font-size="16.9" fill="#5f5f5f" text-anchor="start" font-weight="normal" textLength="68.6" lengthAdjust="spacingAndGlyphs" stroke="#5f5f5f" stroke-width="0.60">Internet</text>
<text x="499.5" y="119.7" font-size="16.9" fill="#5f5f5f" text-anchor="start" font-weight="normal" textLength="135.0" lengthAdjust="spacingAndGlyphs" stroke="#5f5f5f" stroke-width="0.60">Firewall / Router</text>
<text x="942.0" y="55.0" font-size="16.9" fill="#5f5f5f" text-anchor="start" font-weight="normal" textLength="192.2" lengthAdjust="spacingAndGlyphs" stroke="#5f5f5f" stroke-width="0.60">Administrative Center</text>
<text x="387.7" y="202.5" font-size="16.9" fill="#8a8a8a" text-anchor="start" font-weight="normal" textLength="70.0" lengthAdjust="spacingAndGlyphs" stroke="#8a8a8a" stroke-width="0.60">Stacking</text>
<circle cx="506.7" cy="249.2" r="14.3" fill="#1c7fa0"/>
<path d="M502.50 246.00 L507.60 242.60 L507.60 255.70" fill="none" stroke="#fff" stroke-width="2.3" stroke-linejoin="miter"/>
<text x="531.4" y="255.4" font-size="16.9" fill="#1c7fa0" text-anchor="start" font-weight="normal" textLength="96.0" lengthAdjust="spacingAndGlyphs" stroke="#1c7fa0" stroke-width="0.60">Core Switch</text>
<text x="661.5" y="254.1" font-size="16.9" fill="#5f5f5f" text-anchor="start" font-weight="normal" textLength="61.8" lengthAdjust="spacingAndGlyphs" stroke="#5f5f5f" stroke-width="0.60">RADIUS</text>
<text x="756.0" y="254.1" font-size="16.9" fill="#5f5f5f" text-anchor="start" font-weight="normal" textLength="137.6" lengthAdjust="spacingAndGlyphs" stroke="#5f5f5f" stroke-width="0.60">Server &amp; Storage</text>
<circle cx="931.5" cy="252.5" r="14.0" fill="#1c7fa0"/>
<text x="931.5" y="259.0" font-size="18.0" fill="#fff" text-anchor="middle" font-weight="normal" stroke="#fff" stroke-width="0.4">2</text>
<text x="961.8" y="248.5" font-size="16.9" fill="#1c7fa0" text-anchor="start" font-weight="normal" textLength="70.7" lengthAdjust="spacingAndGlyphs" stroke="#1c7fa0" stroke-width="0.60">Network</text>
<text x="956.0" y="269.1" font-size="16.9" fill="#1c7fa0" text-anchor="start" font-weight="normal" textLength="81.7" lengthAdjust="spacingAndGlyphs" stroke="#1c7fa0" stroke-width="0.60">Controller</text>
<text x="252.6" y="332.6" font-size="16.9" fill="#5f5f5f" text-anchor="start" font-weight="normal" textLength="148.2" lengthAdjust="spacingAndGlyphs" stroke="#5f5f5f" stroke-width="0.60">High Speed Fiber</text>
<circle cx="27.3" cy="406.7" r="13.3" fill="#1c7fa0"/>
<text x="27.3" y="413.0" font-size="17.5" fill="#fff" text-anchor="middle" font-weight="normal" stroke="#fff" stroke-width="0.4">3</text>
<text x="45.0" y="412.7" font-size="16.9" fill="#1c7fa0" text-anchor="start" font-weight="normal" textLength="161.0" lengthAdjust="spacingAndGlyphs" stroke="#1c7fa0" stroke-width="0.60">Aggregation Switch</text>
<text x="188.5" y="518.9" font-size="16.9" fill="#5f5f5f" text-anchor="start" font-weight="normal" textLength="38.7" lengthAdjust="spacingAndGlyphs" stroke="#5f5f5f" stroke-width="0.60">ERPS</text>
<text x="408.0" y="423.2" font-size="16.9" fill="#1f4d8c" text-anchor="start" font-weight="normal" textLength="101.0" lengthAdjust="spacingAndGlyphs" stroke="#1f4d8c" stroke-width="0.60">DXS-3130-28</text>
<text x="785.0" y="423.2" font-size="16.9" fill="#1f4d8c" text-anchor="start" font-weight="normal" textLength="100.4" lengthAdjust="spacingAndGlyphs" stroke="#1f4d8c" stroke-width="0.60">DXS-3130-28</text>
<circle cx="87.3" cy="721.7" r="11.8" fill="#1c7fa0"/>
<text x="87.3" y="727.6" font-size="16.5" fill="#fff" text-anchor="middle" font-weight="normal" stroke="#fff" stroke-width="0.4">4</text>
<text x="105.0" y="726.8" font-size="16.9" fill="#1c7fa0" text-anchor="start" font-weight="normal" textLength="223.2" lengthAdjust="spacingAndGlyphs" stroke="#1c7fa0" stroke-width="0.60">Standard Smart PoE Switch</text>
<text x="456.9" y="726.8" font-size="16.9" fill="#1c7fa0" text-anchor="start" font-weight="normal" textLength="222.8" lengthAdjust="spacingAndGlyphs" stroke="#1c7fa0" stroke-width="0.60">Standard Smart PoE Switch</text>
<text x="840.0" y="726.8" font-size="16.9" fill="#1c7fa0" text-anchor="start" font-weight="normal" textLength="223.6" lengthAdjust="spacingAndGlyphs" stroke="#1c7fa0" stroke-width="0.60">Standard Smart PoE Switch</text>
<circle cx="1008.5" cy="802.0" r="11.5" fill="#1c7fa0"/>
<text x="1008.5" y="807.9" font-size="16.5" fill="#fff" text-anchor="middle" font-weight="normal" stroke="#fff" stroke-width="0.4">5</text>
<text x="1025.3" y="808.0" font-size="16.9" fill="#1c7fa0" text-anchor="start" font-weight="normal" textLength="160.0" lengthAdjust="spacingAndGlyphs" stroke="#1c7fa0" stroke-width="0.60">Unmanaged Switch</text>
<text x="45.5" y="951.7" font-size="16.9" fill="#5f5f5f" text-anchor="start" font-weight="normal" textLength="102.5" lengthAdjust="spacingAndGlyphs" stroke="#5f5f5f" stroke-width="0.60">Access Point</text>
<text x="166.6" y="951.7" font-size="16.9" fill="#5f5f5f" text-anchor="start" font-weight="normal" textLength="85.2" lengthAdjust="spacingAndGlyphs" stroke="#5f5f5f" stroke-width="0.60">IP Camera</text>
<text x="269.9" y="951.7" font-size="16.9" fill="#5f5f5f" text-anchor="start" font-weight="normal" textLength="73.4" lengthAdjust="spacingAndGlyphs" stroke="#5f5f5f" stroke-width="0.60">IP Phone</text>
<text x="438.2" y="951.7" font-size="16.9" fill="#5f5f5f" text-anchor="start" font-weight="normal" textLength="51.8" lengthAdjust="spacingAndGlyphs" stroke="#5f5f5f" stroke-width="0.60">Kiosks</text>
<text x="523.8" y="951.7" font-size="16.9" fill="#5f5f5f" text-anchor="start" font-weight="normal" textLength="102.2" lengthAdjust="spacingAndGlyphs" stroke="#5f5f5f" stroke-width="0.60">Access Point</text>
<text x="643.6" y="951.7" font-size="16.9" fill="#5f5f5f" text-anchor="start" font-weight="normal" textLength="73.1" lengthAdjust="spacingAndGlyphs" stroke="#5f5f5f" stroke-width="0.60">IP Phone</text>
<text x="829.0" y="951.7" font-size="16.9" fill="#5f5f5f" text-anchor="start" font-weight="normal" textLength="52.3" lengthAdjust="spacingAndGlyphs" stroke="#5f5f5f" stroke-width="0.60">Kiosks</text>
<circle cx="914.6" cy="947.7" r="11.5" fill="#1c7fa0"/>
<text x="914.6" y="953.6" font-size="16.5" fill="#fff" text-anchor="middle" font-weight="normal" stroke="#fff" stroke-width="0.4">6</text>
<text x="930.4" y="951.7" font-size="16.9" fill="#1c7fa0" text-anchor="start" font-weight="normal" textLength="102.0" lengthAdjust="spacingAndGlyphs" stroke="#1c7fa0" stroke-width="0.60">Access Point</text>
<text x="1102.0" y="951.7" font-size="16.9" fill="#5f5f5f" text-anchor="start" font-weight="normal" textLength="19.2" lengthAdjust="spacingAndGlyphs" stroke="#5f5f5f" stroke-width="0.60">PC</text>
<text x="152.9" y="1012.7" font-size="16.9" fill="#fff" text-anchor="start" font-weight="normal" textLength="80.8" lengthAdjust="spacingAndGlyphs" stroke="#fff" stroke-width="0.60">Building 1</text>
<text x="529.6" y="1012.7" font-size="16.9" fill="#fff" text-anchor="start" font-weight="normal" textLength="82.1" lengthAdjust="spacingAndGlyphs" stroke="#fff" stroke-width="0.60">Building 2</text>
<text x="938.9" y="1012.7" font-size="16.9" fill="#fff" text-anchor="start" font-weight="normal" textLength="82.1" lengthAdjust="spacingAndGlyphs" stroke="#fff" stroke-width="0.60">Building 3</text>
</svg>
</body></html>
